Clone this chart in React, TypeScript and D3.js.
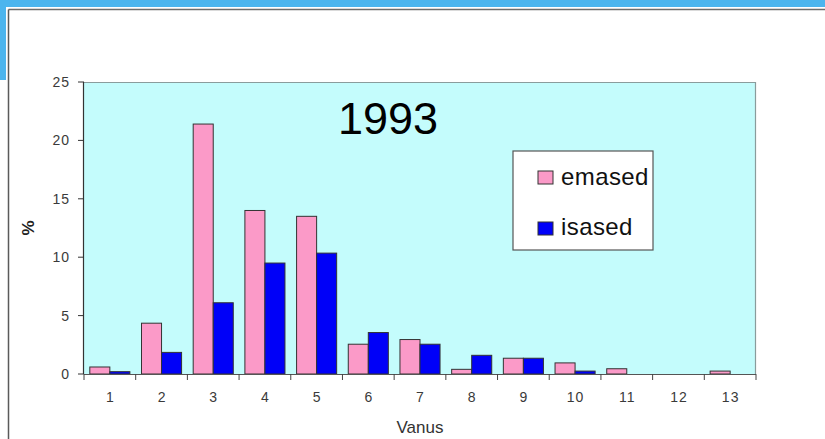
import React from "react";
import * as d3 from "d3";

const categories = ["1", "2", "3", "4", "5", "6", "7", "8", "9", "10", "11", "12", "13"];
const emased = [0.6, 4.35, 21.4, 14.0, 13.5, 2.55, 2.95, 0.4, 1.35, 0.95, 0.45, 0, 0.25];
const isased = [0.2, 1.85, 6.1, 9.5, 10.35, 3.55, 2.55, 1.6, 1.35, 0.25, 0, 0, 0];
const yTicks = [0, 5, 10, 15, 20, 25];
const seriesNames = ["emased", "isased"];
const seriesColors = ["#fb9ac8", "#0000f8"];
const title = "1993";
const xTitle = "Vanus";
const yTitle = "%";

export default function App() {
  const W = 825, H = 439;
  const left = 84, right = 756, top = 82, bottom = 374;
  const x = d3.scaleBand<string>().domain(categories).range([left, right]).padding(0);
  const x1 = d3.scaleBand<string>().domain(seriesNames).range([0, x.bandwidth()]).paddingInner(0).paddingOuter(0.29);
  const y = d3.scaleLinear().domain([0, 25]).range([bottom, top]);
  const series = [emased, isased];
  const font = "'Liberation Sans', Arial, sans-serif";
  const boundaries = categories.map((c) => x(c)!).concat([right]);

  return (
    <svg width={W} height={H} style={{ position: "absolute", left: 0, top: 0, background: "#fff" }} fontFamily={font}>
      {/* outer decoration */}
      <rect x={0} y={0} width={W} height={7} fill="#4cb5ee" />
      <rect x={0} y={0} width={6} height={80} fill="#4cb5ee" />
      <line x1={8.5} y1={9.5} x2={W} y2={9.5} stroke="#6d6d6d" strokeWidth={1.5} />
      <line x1={8.5} y1={9.5} x2={8.5} y2={H} stroke="#5a5a5a" strokeWidth={1.5} />

      {/* plot area */}
      <rect x={left} y={top} width={right - left} height={bottom - top} fill="#c4fcfc" />
      <line x1={left} y1={top + 0.5} x2={right} y2={top + 0.5} stroke="#8a9c9c" strokeWidth={1} />
      <line x1={right - 0.5} y1={top} x2={right - 0.5} y2={bottom} stroke="#8a9c9c" strokeWidth={1.2} />

      {/* bars */}
      {series.map((vals, si) =>
        vals.map((v, i) =>
          v > 0 ? (
            <rect
              key={`${si}-${i}`}
              x={x(categories[i])! + x1(seriesNames[si])!}
              y={y(v)}
              width={x1.bandwidth()}
              height={y(0) - y(v)}
              fill={seriesColors[si]}
              stroke="#333"
              strokeWidth={1}
            />
          ) : null
        )
      )}

      {/* y axis */}
      <line x1={left - 0.5} y1={top} x2={left - 0.5} y2={bottom} stroke="#333" strokeWidth={1.2} />
      {yTicks.map((t) => (
        <g key={t}>
          <line x1={left - 6} y1={y(t)} x2={left} y2={y(t)} stroke="#333" strokeWidth={1} />
          <text x={left - 14} y={y(t)} dy="0.35em" textAnchor="end" fontSize={14} letterSpacing={1} fill="#3a3a3a">
            {t}
          </text>
        </g>
      ))}

      {/* x axis */}
      <line x1={left} y1={bottom + 0.5} x2={right} y2={bottom + 0.5} stroke="#555" strokeWidth={1.2} />
      {boundaries.map((bx, i) => (
        <line key={i} x1={bx} y1={bottom} x2={bx} y2={bottom + 6} stroke="#444" strokeWidth={1} />
      ))}
      {categories.map((c) => (
        <text key={c} x={x(c)! + x.bandwidth() / 2 + 0.5} y={397} dy="0.35em" textAnchor="middle" fontSize={14} letterSpacing={1} fill="#3a3a3a">
          {c}
        </text>
      ))}
      <text x={(left + right) / 2} y={433} textAnchor="middle" fontSize={17} fill="#333">
        {xTitle}
      </text>
      <text
        transform={`translate(34, 228) rotate(-90)`}
        textAnchor="middle"
        fontSize={17}
        fontWeight="bold"
        fill="#222"
      >
        {yTitle}
      </text>

      {/* title */}
      <text x={388} y={134} textAnchor="middle" fontSize={45} fill="#000">
        {title}
      </text>

      {/* legend */}
      <rect x={513} y={151} width={140} height={99} fill="#fff" stroke="#555" strokeWidth={1.2} />
      {seriesNames.map((s, i) => (
        <g key={s}>
          <rect x={538} y={171 + i * 51} width={15} height={13} fill={seriesColors[i]} stroke="#333" strokeWidth={1} />
          <text x={561} y={185 + i * 50} fontSize={24} letterSpacing={0.4} fill="#111">
            {s}
          </text>
        </g>
      ))}
    </svg>
  );
}
